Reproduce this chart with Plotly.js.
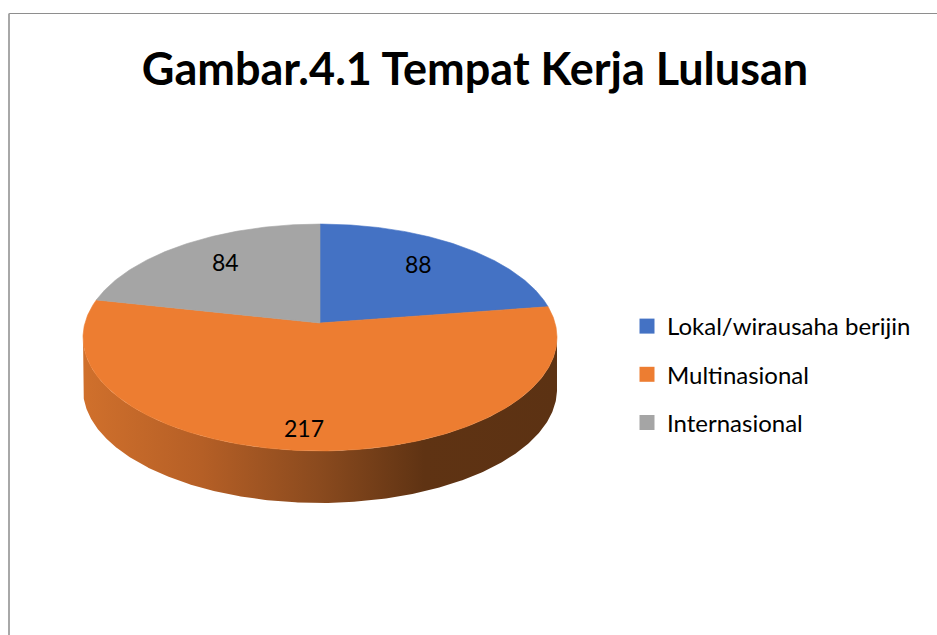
<!DOCTYPE html>
<html>
<head>
<meta charset="utf-8">
<script src="https://cdn.plot.ly/plotly-3.0.1.min.js"></script>
<style>
  html, body { margin: 0; padding: 0; background: #fff; }
  #chart { width: 937px; height: 635px; }
</style>
</head>
<body>
<div id="chart"></div>
<script>
// ---- data ----
const categories = ['Lokal/wirausaha berijin', 'Multinasional', 'Internasional'];
const values = [88, 217, 84];
const sliceColors = ['#4472C4', '#ED7D31', '#A5A5A5'];
const chartTitle = 'Gambar.4.1 Tempat Kerja Lulusan';

// ---- 3D pie geometry (style / layout constants) ----
const geo = { cx: 320, cy: 323, A: 235.05, B: 111.6, k: 0.1278, depth: 52 };
const labelRadius = [0.70, 0.84, 0.70];
const labelShift = [[-2, 4], [-9, 0], [2, 4]];
const FONT = 'Lato, "Open Sans", sans-serif';

function project(theta, r, dy) {
  const u = r * Math.sin(theta), v = r * Math.cos(theta);
  const w = 1 + geo.k * v;
  return [geo.cx + geo.A * u / w, geo.cy - geo.B * v / w + (dy || 0)];
}
function arc(t0, t1, r, dy) {
  const n = Math.max(2, Math.ceil(Math.abs(t1 - t0) / (Math.PI / 360)));
  const xs = [], ys = [];
  for (let i = 0; i <= n; i++) {
    const p = project(t0 + (t1 - t0) * i / n, r, dy);
    xs.push(p[0]); ys.push(p[1]);
  }
  return [xs, ys];
}

const total = values.reduce((a, b) => a + b, 0);
const traces = [];
const annotations = [];

// side wall (visible front part between silhouette points)
const tR = Math.atan2(Math.sqrt(1 - geo.k * geo.k), -geo.k);
const tL = 2 * Math.PI - tR;
const topFront = arc(tR, tL, 1, 0);
const botFront = arc(tL, tR, 1, geo.depth);
traces.push({
  type: 'scatter', mode: 'lines',
  x: topFront[0].concat(botFront[0]), y: topFront[1].concat(botFront[1]),
  fill: 'toself', line: { width: 0 }, hoverinfo: 'skip', showlegend: false,
  fillgradient: {
    type: 'horizontal',
    colorscale: [[0, '#d0702c'], [0.25, '#b55f26'], [0.5, '#8a4a1e'], [0.72, '#5f3313'], [1, '#5c3213']]
  }
});

// top surface slices
let acc = 0;
values.forEach((v, i) => {
  const t0 = 2 * Math.PI * acc / total;
  const t1 = 2 * Math.PI * (acc + v) / total;
  acc += v;
  const a = arc(t0, t1, 1, 0);
  traces.push({
    type: 'scatter', mode: 'lines',
    x: [geo.cx].concat(a[0], [geo.cx]), y: [geo.cy].concat(a[1], [geo.cy]),
    fill: 'toself', fillcolor: sliceColors[i],
    line: { width: 0.6, color: sliceColors[i] },
    hoverinfo: 'skip', showlegend: false
  });
  const p = project((t0 + t1) / 2, labelRadius[i], 0);
  annotations.push({
    x: p[0], y: p[1], xref: 'x', yref: 'y', text: String(v), showarrow: false,
    xshift: labelShift[i][0], yshift: labelShift[i][1],
    font: { family: FONT, size: 23, color: '#000' }
  });
});

// legend entries
categories.forEach((c, i) => {
  traces.push({
    type: 'scatter', mode: 'markers', x: [null], y: [null], name: c,
    legendgroup: 'g' + i,
    marker: { symbol: 'square', size: 15, color: sliceColors[i] },
    showlegend: true, hoverinfo: 'skip'
  });
});

const layout = {
  width: 937, height: 635,
  margin: { l: 0, r: 0, t: 0, b: 0 },
  paper_bgcolor: '#fff', plot_bgcolor: '#fff',
  xaxis: { range: [0, 937], visible: false, fixedrange: true },
  yaxis: { range: [635, 0], visible: false, fixedrange: true },
  title: {
    text: chartTitle, x: 475 / 937, xanchor: 'center', y: 1 - 69 / 635, yanchor: 'middle',
    font: { family: FONT, size: 45, color: '#000', weight: 'bold' }
  },
  legend: {
    x: 627 / 937, xanchor: 'left', y: 1 - 304 / 635, yanchor: 'top',
    font: { family: FONT, size: 24, color: '#000' },
    tracegroupgap: 14, bgcolor: 'rgba(0,0,0,0)', itemclick: false, itemdoubleclick: false
  },
  annotations: annotations,
  shapes: [
    { type: 'line', xref: 'paper', yref: 'paper', x0: 9 / 937, x1: 1.02, y0: 1 - 13.5 / 635, y1: 1 - 13.5 / 635,
      line: { color: '#8e8e8e', width: 1.2 } },
    { type: 'line', xref: 'paper', yref: 'paper', x0: 9 / 937, x1: 9 / 937, y0: 1 - 13.5 / 635, y1: -0.02,
      line: { color: '#a8a8a8', width: 2 } }
  ],
  showlegend: true
};

Plotly.newPlot('chart', traces, layout, { staticPlot: true, displayModeBar: false });
</script>
</body>
</html>
